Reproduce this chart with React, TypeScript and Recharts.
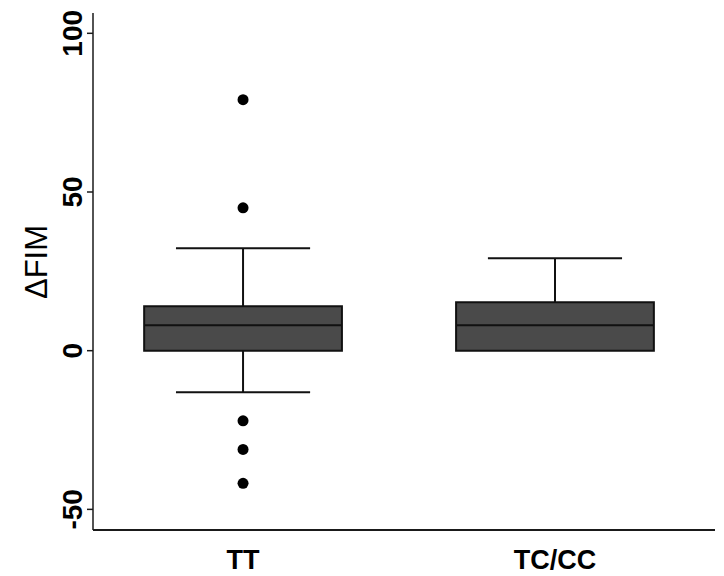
import React from 'react';
import {
  ComposedChart, XAxis, YAxis, Scatter, ReferenceArea, ReferenceLine, Label,
} from 'recharts';

// box plot summary per genotype group
const groups = ['TT', 'TC/CC'];
const positions = [1, 2];
const q1 = [0, 0];
const medians = [8, 8];
const q3 = [14, 15.3];
const whiskerLow = [-13.1, 0];
const whiskerHigh = [32.3, 29.1];

// outliers (TT only)
const outlierGroup = [1, 1, 1, 1, 1];
const outlierValues = [79.1, 45, -22.1, -31.1, -41.8];

const yTicks = [-50, 0, 50, 100];

const BOX_HALF = 0.317;
const CAP_HALF = 0.215;
const FONT = '"Liberation Sans", Arial, Helvetica, sans-serif';

const outliers = outlierValues.map((v, i) => ({ x: outlierGroup[i], y: v }));

const YTick = (props: any) => {
  const { x, y, payload } = props;
  const bx = x - 3;
  return (
    <text
      x={bx}
      y={y}
      transform={`rotate(-90 ${bx} ${y})`}
      textAnchor="middle"
      fontFamily={FONT}
      fontWeight="bold"
      fontSize={28}
      fill="#000"
    >
      {payload.value}
    </text>
  );
};

const XTick = (props: any) => {
  const { x, y, payload } = props;
  const idx = positions.indexOf(payload.value);
  return (
    <text
      x={x}
      y={y + 31}
      textAnchor="middle"
      fontFamily={FONT}
      fontWeight="bold"
      fontSize={27}
      fill="#000"
    >
      {idx >= 0 ? groups[idx] : ''}
    </text>
  );
};

const Dot = (props: any) => <circle cx={props.cx} cy={props.cy} r={5.5} fill="#000" />;

export default function App() {
  return (
    <div style={{ position: 'absolute', left: 0, top: 0, background: '#fff' }}>
      <ComposedChart
        width={724}
        height={576}
        margin={{ top: 13, right: 9, bottom: 0, left: 0 }}
        accessibilityLayer={false}
      >
        <XAxis
          type="number"
          dataKey="x"
          domain={[0.519, 2.513]}
          ticks={positions}
          allowDataOverflow
          height={46}
          tickLine={false}
          tick={<XTick />}
          axisLine={{ stroke: '#1a1a1a', strokeWidth: 2 }}
        />
        <YAxis
          type="number"
          dataKey="y"
          domain={[-56.5, 106.4]}
          ticks={yTicks}
          allowDataOverflow
          width={93}
          tickSize={6}
          tickLine={{ stroke: '#1a1a1a', strokeWidth: 1.5 }}
          axisLine={{ stroke: '#1a1a1a', strokeWidth: 1.5 }}
          tick={<YTick />}
        >
          <Label
            value="ΔFIM"
            angle={-90}
            position="insideLeft"
            offset={0}
            content={() => (
              <text
                x={47}
                y={262}
                transform="rotate(-90 47 262)"
                textAnchor="middle"
                fontFamily={FONT}
                fontSize={31}
                fill="#000"
              >
                ΔFIM
              </text>
            )}
          />
        </YAxis>

        {positions.map((p, i) => (
          <ReferenceLine
            key={`wl-${i}`}
            segment={[{ x: p, y: whiskerLow[i] }, { x: p, y: q1[i] }]}
            stroke="#111"
            strokeWidth={2}
          />
        ))}
        {positions.map((p, i) => (
          <ReferenceLine
            key={`wh-${i}`}
            segment={[{ x: p, y: q3[i] }, { x: p, y: whiskerHigh[i] }]}
            stroke="#111"
            strokeWidth={2}
          />
        ))}
        {positions.map((p, i) => (
          <ReferenceLine
            key={`ch-${i}`}
            segment={[{ x: p - CAP_HALF, y: whiskerHigh[i] }, { x: p + CAP_HALF, y: whiskerHigh[i] }]}
            stroke="#111"
            strokeWidth={2}
          />
        ))}
        {positions.map((p, i) =>
          whiskerLow[i] < q1[i] ? (
            <ReferenceLine
              key={`cl-${i}`}
              segment={[{ x: p - CAP_HALF, y: whiskerLow[i] }, { x: p + CAP_HALF, y: whiskerLow[i] }]}
              stroke="#111"
              strokeWidth={2}
            />
          ) : null
        )}
        {positions.map((p, i) => (
          <ReferenceArea
            key={`box-${i}`}
            x1={p - BOX_HALF}
            x2={p + BOX_HALF}
            y1={q1[i]}
            y2={q3[i]}
            fill="#4a4a4a"
            fillOpacity={1}
            stroke="#111"
            strokeWidth={2}
          />
        ))}
        {positions.map((p, i) => (
          <ReferenceLine
            key={`med-${i}`}
            segment={[{ x: p - BOX_HALF, y: medians[i] }, { x: p + BOX_HALF, y: medians[i] }]}
            stroke="#111"
            strokeWidth={2}
          />
        ))}

        <Scatter data={outliers} dataKey="y" shape={<Dot />} isAnimationActive={false} />
      </ComposedChart>
    </div>
  );
}
